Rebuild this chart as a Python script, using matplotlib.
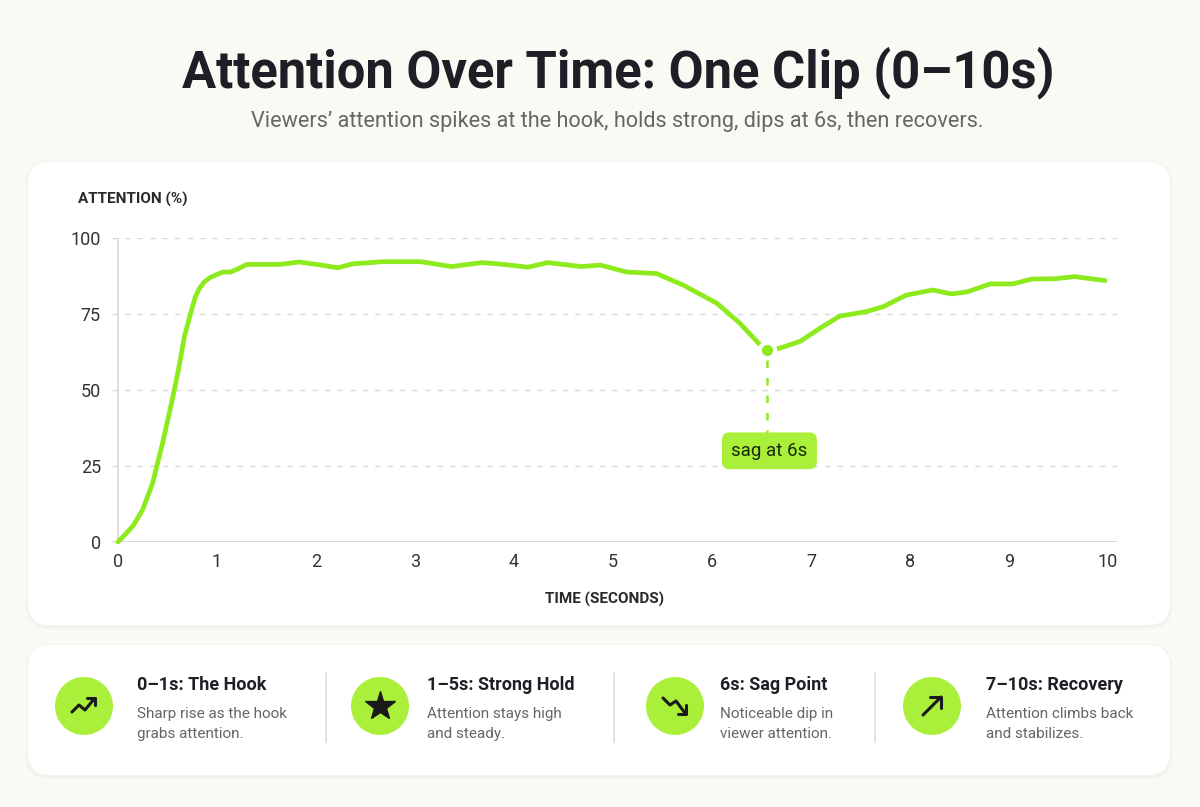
import matplotlib
matplotlib.use("Agg")
import matplotlib.pyplot as plt
from matplotlib.patches import FancyBboxPatch, Circle

plt.rcParams['font.family'] = ['Roboto', 'DejaVu Sans']

# attention curve
time_s = [0, 0.15, 0.25, 0.35, 0.45, 0.54, 0.61, 0.67, 0.74, 0.78, 0.82, 0.87, 0.93, 1.0,
          1.06, 1.14, 1.22, 1.30, 1.63, 1.83, 2.03, 2.22, 2.37, 2.67, 3.06, 3.37, 3.68,
          3.9, 4.14, 4.34, 4.68, 4.87, 5.14, 5.44, 5.71, 6.05, 6.28, 6.47, 6.56, 6.69,
          6.89, 7.09, 7.29, 7.56, 7.73, 7.96, 8.23, 8.42, 8.58, 8.81, 9.04, 9.23, 9.47,
          9.66, 9.97]
attention = [0, 5.2, 10.7, 19.4, 32.5, 45.6, 56.5, 67.5, 76, 80.5, 83.3, 85.5, 87, 88,
             88.8, 88.8, 90, 91.3, 91.3, 92.1, 91.2, 90.2, 91.5, 92.2, 92.2, 90.6, 91.9,
             91.3, 90.4, 91.9, 90.6, 91.1, 88.8, 88.3, 84.5, 78.5, 72, 65.4, 63, 63.8,
             66, 70.3, 74.3, 75.8, 77.4, 81.2, 82.9, 81.6, 82.3, 84.9, 84.9, 86.5, 86.6,
             87.3, 86]

sag_time = 6.56
sag_value = 63
sag_label_value = 30

x_ticks = [0, 1, 2, 3, 4, 5, 6, 7, 8, 9, 10]
y_ticks = [0, 25, 50, 75, 100]

card_titles = ["0–1s: The Hook", "1–5s: Strong Hold", "6s: Sag Point", "7–10s: Recovery"]
card_texts = ["Sharp rise as the hook\ngrabs attention.",
              "Attention stays high\nand steady.",
              "Noticeable dip in\nviewer attention.",
              "Attention climbs back\nand stabilizes."]

LINE = "#8DEA1C"
BADGE = "#AAF03A"
DARK = "#1E1F26"
GREY = "#666666"

W, H = 1200, 807
fig = plt.figure(figsize=(W / 100, H / 100), dpi=100)
fig.patch.set_facecolor("#FAF9F4")

# background axes in pixel units (y down)
bg = fig.add_axes([0, 0, 1, 1])
bg.set_xlim(0, W)
bg.set_ylim(H, 0)
bg.axis("off")


def card(x, y, w, h):
    for i, a in enumerate([0.012, 0.010, 0.008]):
        bg.add_patch(FancyBboxPatch((x - 1 - i, y - i), w + 2 + 2 * i, h + 3 + 2 * i,
                                    boxstyle="round,pad=0,rounding_size=24",
                                    fc="#000000", ec="none", alpha=a))
    bg.add_patch(FancyBboxPatch((x, y), w, h, boxstyle="round,pad=0,rounding_size=22",
                                fc="white", ec="none"))


card(28, 162, 1142, 463)
card(28, 645, 1142, 130)

fig.text(618 / W, 1 - 73 / H, "Attention Over Time: One Clip (0–10s)", ha="center", va="center",
         fontsize=36.5, fontweight="bold", color=DARK)
fig.text(617 / W, 1 - 122 / H,
         "Viewers’ attention spikes at the hook, holds strong, dips at 6s, then recovers.",
         ha="center", va="center", fontsize=15.6, color=GREY)

# chart axes
x0, x1 = -0.06, 10.09
left_px, right_px = 118 + x0 * 99, 118 + x1 * 99
ax = fig.add_axes([left_px / W, 1 - 542 / H, (right_px - left_px) / W, (542 - 238) / H])
ax.set_xlim(x0, x1)
ax.set_ylim(0, 100)
ax.patch.set_alpha(0)
for s in ax.spines.values():
    s.set_visible(False)
for v in y_ticks[1:]:
    ax.axhline(v, color="#D9D9D9", lw=1, ls=(0, (4, 5)), zorder=1)
ax.axhline(0, color="#CFCFCF", lw=1.2, zorder=1)
ax.axvline(0, color="#D9D9D9", lw=1.2, zorder=1)
ax.set_xticks(x_ticks)
ax.set_yticks(y_ticks)
ax.tick_params(length=0, labelsize=13, labelcolor="#333333", pad=8)

ax.plot(time_s, attention, color=LINE, lw=3.4, solid_joinstyle="round",
        solid_capstyle="round", clip_on=False, zorder=3)
ax.plot([sag_time, sag_time], [sag_value - 3, sag_label_value + 6], color=LINE, lw=1.8,
        ls=(0, (3, 4)), zorder=2)
ax.plot(sag_time, sag_value, "o", ms=11, color=LINE, mec="white", mew=3, zorder=4)
ax.text(sag_time + 0.02, sag_label_value, "sag at 6s", ha="center", va="center",
        fontsize=13.5, color="#1A2A08", zorder=5,
        bbox=dict(boxstyle="round,pad=0.5,rounding_size=0.4", fc=BADGE, ec="none"))

fig.text(78 / W, 1 - 199 / H, "ATTENTION (%)", ha="left", va="center", fontsize=11,
         fontweight="bold", color="#2A2A2A")
fig.text(605 / W, 1 - 599 / H, "TIME (SECONDS)", ha="center", va="center", fontsize=11,
         fontweight="bold", color="#2A2A2A")

# bottom legend cards
circle_x = [84, 380, 675, 932]
text_x = [137, 427, 720, 986]
sep_x = [326, 614, 875]
cy = 706
for cx, tx, title, desc in zip(circle_x, text_x, card_titles, card_texts):
    bg.add_patch(Circle((cx, cy), 29, fc=BADGE, ec="none"))
    bg.text(tx, 685, title, ha="left", va="center", fontsize=13, fontweight="bold", color=DARK)
    bg.text(tx, 724, desc, ha="left", va="center", fontsize=11, color=GREY, linespacing=1.55)
for sx in sep_x:
    bg.plot([sx, sx], [673, 742], color="#DDDDDD", lw=1.2)

ic = dict(color="#1A1A1A", lw=2.2, solid_capstyle="round", solid_joinstyle="round")
# trending up
c = circle_x[0]
bg.plot([c - 12, c - 5, c + 1, c + 10], [cy + 6, cy - 1, cy + 4, cy - 7], **ic)
bg.plot([c + 3, c + 11, c + 11], [cy - 8, cy - 8, cy - 1], **ic)
# star
bg.plot(circle_x[1], cy, marker="*", ms=22, color="#1A1A1A")
# trending down
c = circle_x[2]
bg.plot([c - 12, c - 5, c + 1, c + 10], [cy - 8, cy - 1, cy - 5, cy + 7], **ic)
bg.plot([c + 11, c + 11, c + 3], [cy - 1, cy + 8, cy + 8], **ic)
# arrow up-right
c = circle_x[3]
bg.plot([c - 9, c + 9], [cy + 9, cy - 9], **ic)
bg.plot([c - 2, c + 9, c + 9], [cy - 9, cy - 9, cy + 2], **ic)

fig.savefig("out.png", dpi=100, facecolor=fig.get_facecolor())
